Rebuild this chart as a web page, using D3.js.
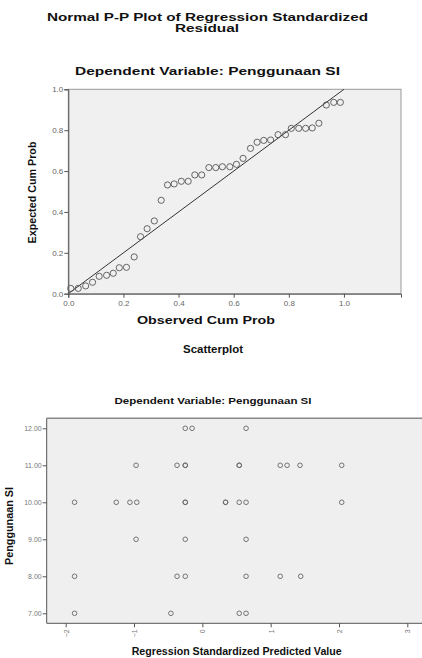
<!DOCTYPE html>
<html>
<head>
<meta charset="utf-8">
<script src="https://cdn.jsdelivr.net/npm/d3@7"></script>
<style>
  body { margin: 0; background: #fff; }
  svg { display: block; font-family: "Liberation Sans", Arial, sans-serif; }
</style>
</head>
<body>
<div id="chart"></div>
<script>
// P-P plot values (observed vs expected cumulative probability)
var observedCum = [0.009, 0.036, 0.063, 0.088, 0.112, 0.139, 0.163, 0.185, 0.211, 0.239,
  0.262, 0.286, 0.312, 0.337, 0.360, 0.384, 0.410, 0.435, 0.459, 0.484,
  0.510, 0.535, 0.559, 0.586, 0.610, 0.634, 0.661, 0.685, 0.709, 0.734,
  0.761, 0.788, 0.809, 0.836, 0.861, 0.885, 0.909, 0.936, 0.963, 0.987];
var expectedCum = [0.026, 0.026, 0.038, 0.056, 0.085, 0.090, 0.100, 0.127, 0.129, 0.180,
  0.279, 0.318, 0.356, 0.457, 0.532, 0.537, 0.550, 0.550, 0.581, 0.581,
  0.617, 0.617, 0.621, 0.621, 0.633, 0.662, 0.711, 0.741, 0.750, 0.752,
  0.778, 0.778, 0.809, 0.809, 0.809, 0.811, 0.834, 0.923, 0.936, 0.936];
var ppTicks = [0, 0.2, 0.4, 0.6, 0.8, 1.0];

// scatterplot values
var predictedValue = [-0.25, -0.15, 0.64,
  -0.97, -0.37, -0.25, -0.25, 0.54, 0.54, 1.14, 1.24, 1.43, 2.04,
  -1.87, -1.26, -1.06, -0.96, -0.25, -0.25, 0.34, 0.34, 0.54, 0.64, 2.04,
  -0.97, -0.25, 0.64,
  -1.87, -0.37, -0.25, 0.64, 1.14, 1.44,
  -1.87, -0.46, 0.54, 0.64];
var penggunaanSI = [12, 12, 12,
  11, 11, 11, 11, 11, 11, 11, 11, 11, 11,
  10, 10, 10, 10, 10, 10, 10, 10, 10, 10, 10,
  9, 9, 9,
  8, 8, 8, 8, 8, 8,
  7, 7, 7, 7];
var siTicks = [7, 8, 9, 10, 11, 12];
var predTicks = [-2, -1, 0, 1, 2, 3];

var W = 422, H = 658;
var svg = d3.select("#chart").append("svg")
  .attr("width", W)
  .attr("height", H);

// text helper, stretched to the width seen in the picture
function label(txt, x, y, size, weight, width, rotate) {
  var t = svg.append("text")
    .attr("text-anchor", "middle")
    .style("font-size", size + "px")
    .style("font-weight", weight)
    .attr("fill", "#111")
    .text(txt);
  if (rotate) {
    t.attr("transform", "translate(" + x + "," + y + ") rotate(-90)");
  } else {
    t.attr("x", x).attr("y", y);
  }
  if (width) t.attr("textLength", width).attr("lengthAdjust", "spacingAndGlyphs");
  return t;
}

// ---------- P-P plot ----------
label("Normal P-P Plot of Regression Standardized", 207.5, 20.5, 11, "bold", 321);
label("Residual", 207, 31.5, 11, "bold", 64);
label("Dependent Variable: Penggunaan SI", 207.5, 74.5, 10.5, "bold", 265);

var x1 = d3.scaleLinear().domain([0, 1.207]).range([68.3, 401]);
var y1 = d3.scaleLinear().domain([0, 1]).range([293.7, 89.3]);

svg.append("rect")
  .attr("x", x1(0)).attr("y", y1(1))
  .attr("width", x1(1.207) - x1(0))
  .attr("height", y1(0) - y1(1))
  .attr("fill", "#f0f0f0")
  .attr("stroke", "#9a9a9a")
  .attr("stroke-width", 1);

// reference diagonal
svg.append("line")
  .attr("x1", x1(0)).attr("y1", y1(0))
  .attr("x2", x1(1)).attr("y2", y1(1))
  .attr("stroke", "#333")
  .attr("stroke-width", 1);

svg.append("g")
  .selectAll("circle")
  .data(observedCum)
  .enter()
  .append("circle")
  .attr("cx", function (d) { return x1(d); })
  .attr("cy", function (d, i) { return y1(expectedCum[i]); })
  .attr("r", 3.1)
  .attr("fill", "none")
  .attr("stroke", "#555")
  .attr("stroke-width", 0.9);

var ax1 = svg.append("g")
  .attr("transform", "translate(0," + y1(0) + ")")
  .call(d3.axisBottom(x1).tickValues(ppTicks).tickSize(4).tickFormat(d3.format(".1f")));
var ay1 = svg.append("g")
  .attr("transform", "translate(" + x1(0) + ",0)")
  .call(d3.axisLeft(y1).tickValues(ppTicks).tickSize(4).tickFormat(d3.format(".1f")));
[ax1, ay1].forEach(function (a) {
  a.select(".domain").attr("stroke", "#555");
  a.selectAll(".tick line").attr("stroke", "#555");
  a.selectAll("text").style("font-size", "8px").attr("fill", "#666")
    .style("font-family", "'Liberation Sans', Arial, sans-serif");
});
ay1.selectAll("text").attr("x", -5);

label("Observed Cum Prob", 206, 324, 11, "bold", 138);
label("Expected Cum Prob", 36, 192.5, 10, "bold", 102, true);

// ---------- Scatterplot ----------
label("Scatterplot", 213, 353, 10, "bold", 60);
label("Dependent Variable: Penggunaan SI", 213, 404, 9.5, "bold", 197);

var x2 = d3.scaleLinear().domain([-2, 3]).range([65.7, 407.3]);
var y2 = d3.scaleLinear().domain([7, 12]).range([613.3, 428.3]);
var left2 = 46.7, top2 = 418.3, bottom2 = 623.3;

svg.append("rect")
  .attr("x", left2).attr("y", top2)
  .attr("width", W + 10 - left2)
  .attr("height", bottom2 - top2)
  .attr("fill", "#efefef");
svg.append("line")
  .attr("x1", left2).attr("x2", W + 10)
  .attr("y1", top2).attr("y2", top2)
  .attr("stroke", "#888").attr("stroke-width", 1.5);

svg.append("g")
  .selectAll("circle")
  .data(predictedValue)
  .enter()
  .append("circle")
  .attr("cx", function (d) { return x2(d); })
  .attr("cy", function (d, i) { return y2(penggunaanSI[i]); })
  .attr("r", 2.3)
  .attr("fill", "none")
  .attr("stroke", "#666")
  .attr("stroke-width", 0.9);

var ax2 = svg.append("g")
  .attr("transform", "translate(0," + bottom2 + ")")
  .call(d3.axisBottom(x2).tickValues(predTicks).tickSize(4).tickFormat(d3.format("d")));
var ay2 = svg.append("g")
  .attr("transform", "translate(" + left2 + ",0)")
  .call(d3.axisLeft(y2).tickValues(siTicks).tickSize(4).tickFormat(d3.format(".2f")));
ax2.select(".domain").attr("d", "M" + left2 + ",0H" + (W + 10));
ay2.select(".domain").attr("d", "M0," + top2 + "V" + bottom2);
[ax2, ay2].forEach(function (a) {
  a.select(".domain").attr("stroke", "#555");
  a.selectAll(".tick line").attr("stroke", "#555");
  a.selectAll("text").style("font-size", "7px").attr("fill", "#777")
    .style("font-family", "'Liberation Sans', Arial, sans-serif");
});
ay2.selectAll("text").attr("x", -5);
// rotated tick labels on the x axis
ax2.selectAll("text")
  .attr("transform", "rotate(-90)")
  .attr("text-anchor", "end")
  .attr("x", -6)
  .attr("y", 0)
  .attr("dy", "0.35em");

label("Regression Standardized Predicted Value", 236.7, 655, 10, "bold", 210);
label("Penggunaan SI", 13, 526, 10, "bold", 78, true);
</script>
</body>
</html>
